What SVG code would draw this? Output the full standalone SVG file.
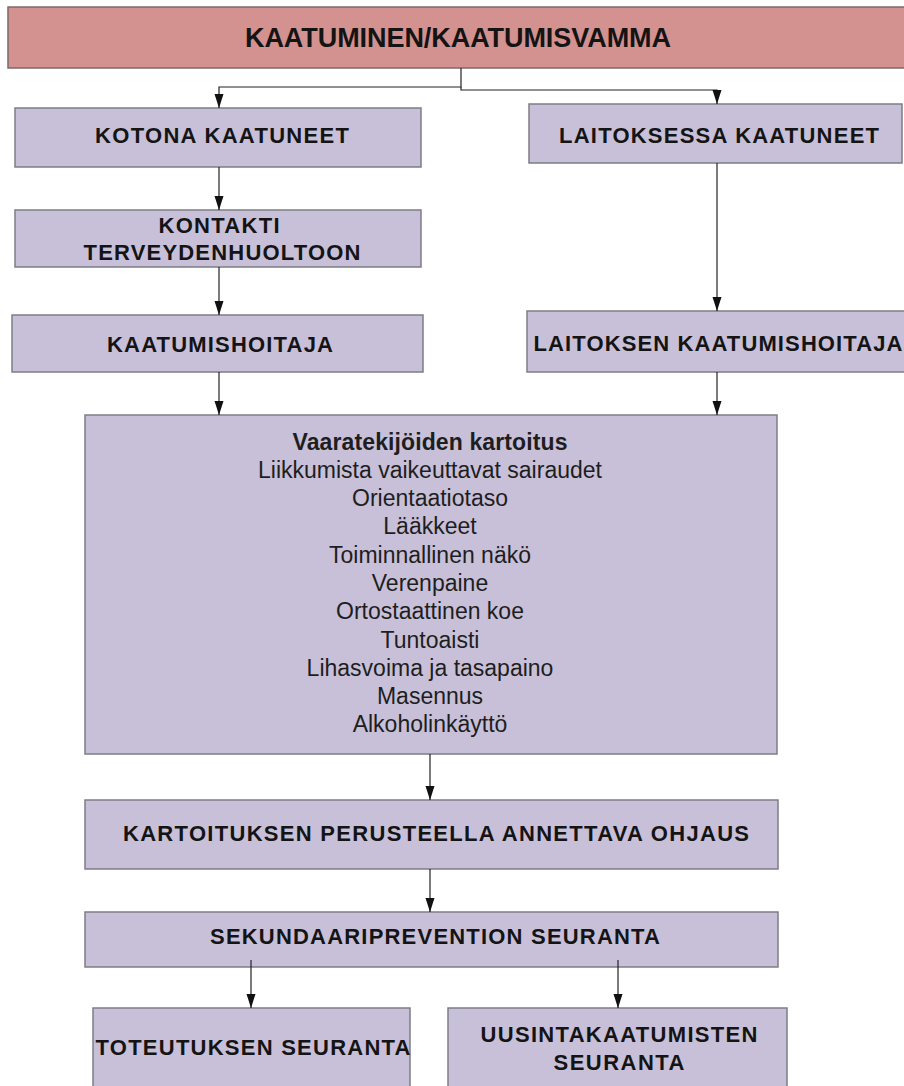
<svg xmlns="http://www.w3.org/2000/svg" width="904" height="1086" viewBox="0 0 904 1086">
  <defs>
    <marker id="arr" markerUnits="userSpaceOnUse" markerWidth="14" markerHeight="10" refX="14" refY="5" orient="auto">
      <path d="M0,0.5 L14,5 L0,9.5 Z" fill="#111"/>
    </marker>
    <style>
      .box { fill: #C8C0D8; stroke: #7d7d85; stroke-width: 1.5; }
      .top { fill: #D3918F; stroke: #7d6a6a; stroke-width: 1.5; }
      .cap { font-family: "Liberation Sans Narrow", "Liberation Sans", Arial, sans-serif; font-weight: bold; font-size: 22px; fill: #141414; text-anchor: middle; }
      .txt { font-family: "Liberation Sans", Arial, sans-serif; font-size: 23px; fill: #1e1e1e; text-anchor: middle; }
      .conn { fill: none; stroke: #222; stroke-width: 1.2; }
    </style>
  </defs>
  <rect width="904" height="1086" fill="#ffffff"/>

  <g id="n-kaatuminen">
    <rect class="top" x="8" y="7" width="910" height="61"/>
    <text class="cap" x="458" y="47" style="font-size:27px" textLength="426" lengthAdjust="spacing">KAATUMINEN/KAATUMISVAMMA</text>
  </g>
  <g id="n-kotona">
    <rect class="box" x="15" y="108" width="406" height="59"/>
    <text class="cap" x="222" y="143" textLength="254" lengthAdjust="spacing">KOTONA KAATUNEET</text>
  </g>
  <g id="n-laitoksessa">
    <rect class="box" x="529" y="104" width="373" height="59"/>
    <text class="cap" x="719" y="143" textLength="320" lengthAdjust="spacing">LAITOKSESSA KAATUNEET</text>
  </g>
  <g id="n-kontakti">
    <rect class="box" x="15" y="210" width="406" height="57"/>
    <text class="cap" x="219" y="233" textLength="121" lengthAdjust="spacing">KONTAKTI</text>
    <text class="cap" x="222" y="260" textLength="277" lengthAdjust="spacing">TERVEYDENHUOLTOON</text>
  </g>
  <g id="n-kaatumishoitaja">
    <rect class="box" x="12" y="315" width="411" height="57"/>
    <text class="cap" x="220" y="352" textLength="226" lengthAdjust="spacing">KAATUMISHOITAJA</text>
  </g>
  <g id="n-laitoksen">
    <rect class="box" x="527" y="311" width="390" height="61"/>
    <text class="cap" x="718" y="351" textLength="369" lengthAdjust="spacing">LAITOKSEN KAATUMISHOITAJA</text>
  </g>
  <g id="n-kartoitus">
    <rect class="box" x="85" y="415" width="692" height="339"/>
    <text class="txt" x="430" y="450" style="font-weight:bold" textLength="275" lengthAdjust="spacing">Vaaratekijöiden kartoitus</text>
    <text class="txt" x="430" y="478">Liikkumista vaikeuttavat sairaudet</text>
    <text class="txt" x="430" y="506">Orientaatiotaso</text>
    <text class="txt" x="430" y="534">Lääkkeet</text>
    <text class="txt" x="430" y="562.5">Toiminnallinen näkö</text>
    <text class="txt" x="430" y="591">Verenpaine</text>
    <text class="txt" x="430" y="619">Ortostaattinen koe</text>
    <text class="txt" x="430" y="647.5">Tuntoaisti</text>
    <text class="txt" x="430" y="676">Lihasvoima ja tasapaino</text>
    <text class="txt" x="430" y="704">Masennus</text>
    <text class="txt" x="430" y="732">Alkoholinkäyttö</text>
  </g>
  <g id="n-ohjaus">
    <rect class="box" x="85" y="800" width="693" height="69"/>
    <text class="cap" x="436" y="841" textLength="626" lengthAdjust="spacing">KARTOITUKSEN PERUSTEELLA ANNETTAVA OHJAUS</text>
  </g>
  <g id="n-sekundaari">
    <rect class="box" x="85" y="912" width="693" height="55"/>
    <text class="cap" x="435" y="944" textLength="450" lengthAdjust="spacing">SEKUNDAARIPREVENTION SEURANTA</text>
  </g>
  <g id="n-toteutus">
    <rect class="box" x="93" y="1008" width="317" height="90"/>
    <text class="cap" x="253" y="1055" textLength="315" lengthAdjust="spacing">TOTEUTUKSEN SEURANTA</text>
  </g>
  <g id="n-uusinta">
    <rect class="box" x="448" y="1008" width="339" height="90"/>
    <text class="cap" x="619" y="1042" textLength="277" lengthAdjust="spacing">UUSINTAKAATUMISTEN</text>
    <text class="cap" x="619" y="1070" textLength="131" lengthAdjust="spacing">SEURANTA</text>
  </g>

  <g id="connectors">
    <path class="conn" d="M461,68 V87 H219 V108" marker-end="url(#arr)"/>
    <path class="conn" d="M461,87 V90 H717 V104" marker-end="url(#arr)"/>
    <path class="conn" d="M219,167 V210" marker-end="url(#arr)"/>
    <path class="conn" d="M219,267 V315" marker-end="url(#arr)"/>
    <path class="conn" d="M717,163 V311" marker-end="url(#arr)"/>
    <path class="conn" d="M219,372 V415" marker-end="url(#arr)"/>
    <path class="conn" d="M717,372 V415" marker-end="url(#arr)"/>
    <path class="conn" d="M430,754 V800" marker-end="url(#arr)"/>
    <path class="conn" d="M430,869 V912" marker-end="url(#arr)"/>
    <path class="conn" d="M251,960 V1008" marker-end="url(#arr)"/>
    <path class="conn" d="M618,960 V1008" marker-end="url(#arr)"/>
  </g>
</svg>
